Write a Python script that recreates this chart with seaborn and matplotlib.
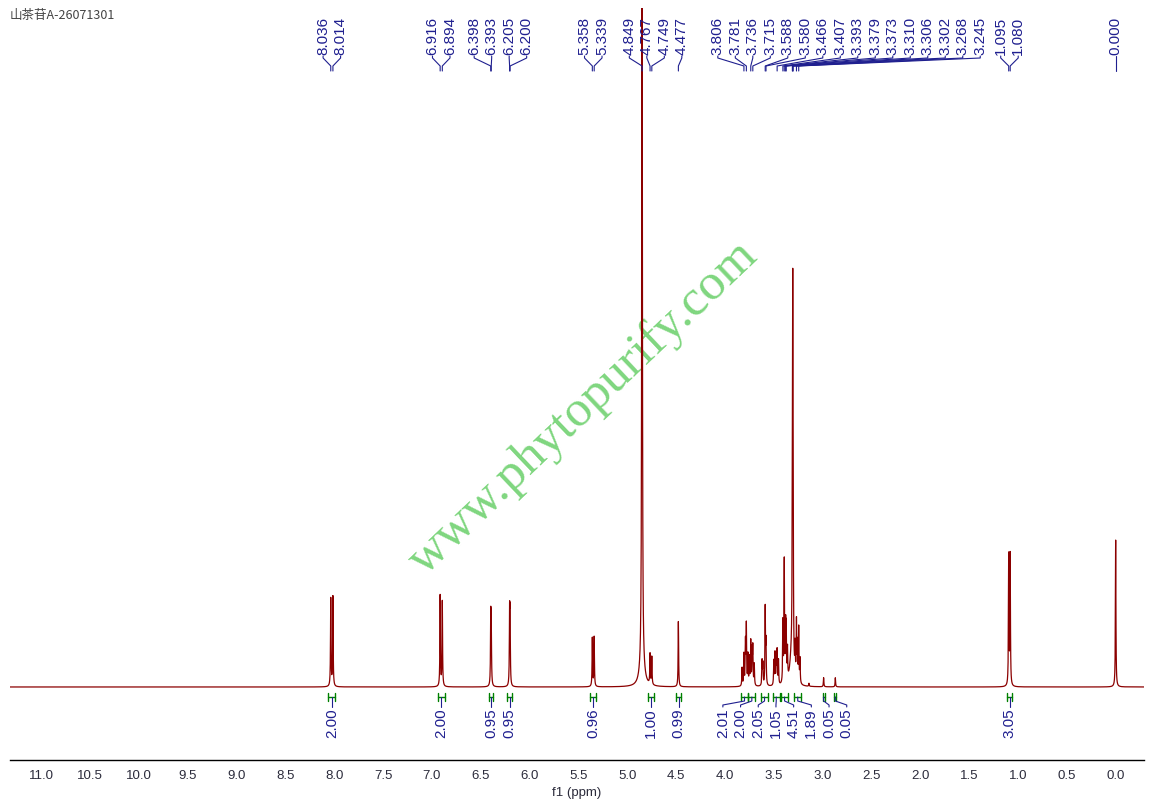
import numpy as np
import pandas as pd
import matplotlib
matplotlib.use("Agg")
import matplotlib.pyplot as plt
from matplotlib.ticker import MultipleLocator
import seaborn as sns


TITLE = "山茶苷A-26071301"

# resolved lines of the 1H spectrum (ppm, relative height)
LINE_PPM = [
    8.036, 8.014,
    6.916, 6.894, 6.398, 6.393, 6.205, 6.200,
    5.358, 5.339,
    4.849, 4.767, 4.749, 4.477,
    3.825, 3.806, 3.790, 3.781, 3.765, 3.750, 3.736, 3.722, 3.715, 3.700,
    3.620, 3.612, 3.588, 3.580,
    3.500, 3.488, 3.475, 3.466, 3.452,
    3.407, 3.393, 3.379, 3.373, 3.360,
    3.310, 3.306, 3.302,
    3.282, 3.268, 3.258, 3.245, 3.232,
    3.140, 2.990, 2.870,
    1.095, 1.080,
    0.000,
]
LINE_HEIGHT = [
    0.145, 0.148,
    0.150, 0.140, 0.105, 0.100, 0.112, 0.108,
    0.080, 0.082,
    1.600, 0.050, 0.046, 0.108,
    0.030, 0.052, 0.070, 0.098, 0.050, 0.045, 0.072, 0.055, 0.060, 0.035,
    0.040, 0.035, 0.126, 0.068,
    0.040, 0.052, 0.045, 0.055, 0.040,
    0.100, 0.200, 0.085, 0.080, 0.050,
    0.190, 0.520, 0.190,
    0.050, 0.095, 0.060, 0.090, 0.040,
    0.005, 0.015, 0.015,
    0.215, 0.215,
    0.242,
]
LINE_HWHM = 0.003

# broad humps under the solvent signals (ppm, height, half width)
BROAD_PPM = [4.849, 4.849, 3.320]
BROAD_HEIGHT = [0.10, 0.035, 0.045]
BROAD_HWHM = [0.006, 0.025, 0.020]

# picked peaks printed on top
PEAK_LABELS = [
    8.036, 8.014, 6.916, 6.894, 6.398, 6.393, 6.205, 6.200,
    5.358, 5.339, 4.849, 4.767, 4.749, 4.477,
    3.806, 3.781, 3.736, 3.715, 3.588, 3.580, 3.466, 3.407,
    3.393, 3.379, 3.373, 3.310, 3.306, 3.302, 3.268, 3.245,
    1.095, 1.080, 0.000,
]

# integrals: region start / end (ppm) and value
INT_START = [8.06, 6.94, 6.42, 6.23, 5.38, 4.79, 4.50,
             3.84, 3.76, 3.63, 3.51, 3.43, 3.29, 3.00, 2.88, 1.11]
INT_END = [7.99, 6.87, 6.37, 6.18, 5.32, 4.73, 4.45,
           3.76, 3.69, 3.56, 3.44, 3.35, 3.22, 2.98, 2.86, 1.06]
INT_VALUES = [2.00, 2.00, 0.95, 0.95, 0.96, 1.00, 0.99,
              2.01, 2.00, 2.05, 1.05, 4.51, 1.89, 0.05, 0.05, 3.05]

X_TICKS = [11.0, 10.5, 10.0, 9.5, 9.0, 8.5, 8.0, 7.5, 7.0, 6.5, 6.0, 5.5,
           5.0, 4.5, 4.0, 3.5, 3.0, 2.5, 2.0, 1.5, 1.0, 0.5, 0.0]

SPEC_COLOR = "#8b0000"
LABEL_COLOR = "#1f1f8f"
INT_COLOR = "#008000"
WATERMARK_COLOR = "#7fd67f"


def spread_labels(shifts, gap, block_break, block_sep):
    # MestReNova-like label layout: centred groups, pushed right between blocks
    pos = -np.asarray(shifts, dtype=float)
    order = np.argsort(pos)
    pos = pos[order]
    blocks = [[pos[0]]]
    for p in pos[1:]:
        if p - blocks[-1][-1] > block_break:
            blocks.append([p])
        else:
            blocks[-1].append(p)

    out = []
    prev_end = -np.inf
    for blk in blocks:
        groups = []
        for p in blk:
            groups.append([p])
            while len(groups) > 1:
                a, b = groups[-2], groups[-1]
                a_end = np.mean(a) + (len(a) - 1) / 2 * gap
                b_start = np.mean(b) - (len(b) - 1) / 2 * gap
                if b_start - a_end < gap:
                    groups[-2] = a + b
                    groups.pop()
                else:
                    break
        xs = []
        for g in groups:
            n = len(g)
            xs += list(np.mean(g) + (np.arange(n) - (n - 1) / 2) * gap)
        xs = np.array(xs)
        if xs[0] < prev_end:
            xs += prev_end + block_sep - xs[0]
        prev_end = xs[-1]
        out.extend(xs)

    res = np.empty(len(out))
    res[order] = -np.array(out)
    return res


# build the trace
ppm = np.arange(-0.35, 11.40, 0.0004)
intensity = np.zeros_like(ppm)
for c, h in zip(LINE_PPM, LINE_HEIGHT):
    intensity += h / (1 + ((ppm - c) / LINE_HWHM) ** 2)
for c, h, w in zip(BROAD_PPM, BROAD_HEIGHT, BROAD_HWHM):
    intensity += h / (1 + ((ppm - c) / w) ** 2)
spec = pd.DataFrame({"ppm": ppm, "intensity": intensity})

sns.set_style("white")
plt.rcParams["font.family"] = ["Liberation Sans", "Noto Sans CJK SC", "DejaVu Sans"]

W, H = 1150, 810
fig = plt.figure(figsize=(W / 100, H / 100), dpi=100)
AX_TOP, AX_BOTTOM = 8, 760
ax = fig.add_axes([10 / W, (H - AX_BOTTOM) / H, 1134 / W, (AX_BOTTOM - AX_TOP) / H])


def fy(py):
    # pixel row -> axes fraction
    return (AX_BOTTOM - py) / (AX_BOTTOM - AX_TOP)


sns.lineplot(data=spec, x="ppm", y="intensity", ax=ax, color=SPEC_COLOR,
             linewidth=0.9, estimator=None, sort=False, zorder=3)

ax.set_xlim(11.32, -0.29)
ax.set_ylim(-0.1203, 1.1186)
ax.set_yticks([])
ax.set_ylabel("")
for side in ["top", "left", "right"]:
    ax.spines[side].set_visible(False)
ax.spines["bottom"].set_linewidth(1.0)
ax.spines["bottom"].set_color("black")

ax.set_xticks(X_TICKS)
ax.set_xticklabels([f"{t:.1f}" for t in X_TICKS])
ax.xaxis.set_minor_locator(MultipleLocator(0.25))
ax.tick_params(axis="x", which="major", length=5, width=1, direction="out",
               labelsize=9.5, pad=2, labelcolor="#2b2b3b")
ax.tick_params(axis="x", which="minor", length=3, width=1, direction="out")
ax.set_xlabel("f1 (ppm)", fontsize=9.5, labelpad=4, color="#2b2b3b")

trans = ax.get_xaxis_transform()

# peak labels with fan connectors
gap = 17.5 / 97.7
label_x = spread_labels(PEAK_LABELS, gap, 0.6, 36 / 97.7)
for shift, lx in zip(PEAK_LABELS, label_x):
    ax.plot([lx, lx, shift, shift], [fy(56), fy(58), fy(66), fy(71)],
            transform=trans, color=LABEL_COLOR, lw=0.8, clip_on=False, zorder=4)
    ax.text(lx, fy(55), f"{shift:.3f}", rotation=90, ha="center", va="bottom",
            transform=trans, fontsize=11, color=LABEL_COLOR, zorder=4)

# integrals
int_mid = [(a + b) / 2 for a, b in zip(INT_START, INT_END)]
int_x = spread_labels(int_mid, 17.7 / 97.7, 100, 0)
for a, b, m, lx, v in zip(INT_START, INT_END, int_mid, int_x, INT_VALUES):
    ax.plot([a, b], [fy(697), fy(697)], transform=trans, color=INT_COLOR,
            lw=1.0, clip_on=False)
    for e in (a, b):
        ax.plot([e, e], [fy(693), fy(701)], transform=trans, color=INT_COLOR,
                lw=1.0, clip_on=False)
    ax.plot([m, m, lx, lx], [fy(697), fy(701), fy(705), fy(707)],
            transform=trans, color=LABEL_COLOR, lw=0.8, clip_on=False)
    ax.text(lx, fy(708), f"{v:.2f}", rotation=90, ha="center", va="top",
            transform=trans, fontsize=11, color=LABEL_COLOR)

# watermark
ax.text(583 / W, 1 - 408 / H, "www.phytopurify.com", transform=fig.transFigure,
        rotation=43.5, rotation_mode="anchor", ha="center", va="center",
        fontsize=37, family="Liberation Serif", color=WATERMARK_COLOR, zorder=1)

fig.text(10 / W, 1 - 9 / H, TITLE, ha="left", va="top", fontsize=9,
         color="#444444", family=["Noto Sans CJK SC", "DejaVu Sans"])

fig.savefig("out.png", dpi=100)
plt.close(fig)
